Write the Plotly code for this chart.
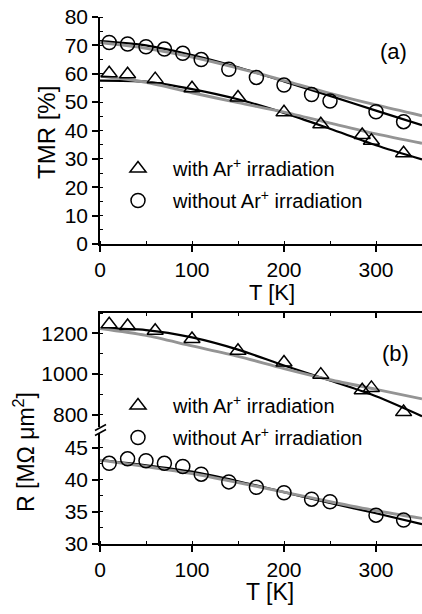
import plotly.graph_objects as go

# ---------------- data ----------------
T_tri_a = [10, 30, 60, 100, 150, 200, 240, 285, 295, 330]
TMR_tri = [60.2, 59.8, 58.1, 54.9, 51.6, 46.4, 42.2, 38.4, 36.4, 32.0]
T_cir_a = [10, 30, 50, 70, 90, 110, 140, 170, 200, 230, 250, 300, 330]
TMR_cir = [71.0, 70.5, 69.5, 68.7, 67.2, 65.0, 61.6, 58.7, 56.0, 52.7, 50.4, 46.6, 43.1]

T_fit = [0, 50, 100, 150, 200, 250, 300, 350]
TMR_tri_black = [57.6, 57.2, 54.6, 51.0, 46.2, 40.6, 34.8, 29.8]
TMR_tri_gray = [59.2, 57.0, 53.3, 49.8, 46.5, 42.6, 38.8, 35.5]
TMR_cir_black = [71.5, 70.0, 66.6, 62.3, 57.3, 52.2, 47.0, 41.9]
TMR_cir_gray = [71.0, 69.0, 65.9, 62.0, 57.6, 53.1, 49.0, 45.2]

T_tri_b = [10, 30, 60, 100, 150, 200, 240, 285, 295, 330]
R_tri = [1245, 1236, 1213, 1172, 1114, 1057, 997, 920, 932, 813]
T_cir_b = [10, 30, 50, 70, 90, 110, 140, 170, 200, 230, 250, 300, 330]
R_cir = [42.6, 43.3, 43.0, 42.6, 42.1, 40.9, 39.7, 38.85, 38.0, 37.0, 36.6, 34.5, 33.75]

R_tri_black = [1224, 1216, 1180, 1120, 1042, 968, 891, 793]
R_tri_gray = [1224, 1190, 1138, 1087, 1027, 972, 925, 878]
R_cir_black = [43.1, 42.3, 41.3, 39.8, 38.1, 36.4, 34.8, 33.1]
R_cir_gray = [43.1, 42.1, 41.0, 39.6, 38.1, 36.6, 35.2, 34.0]

label_with = "with Ar<sup>+</sup> irradiation"
label_without = "without Ar<sup>+</sup> irradiation"

# ---------------- geometry helpers ----------------
W, H = 422, 614
ML, MR = 100, 0
PW = W - ML - MR


def px(x):
    return (x - ML) / PW


def py(y):
    return 1 - y / H


FONT = "Liberation Sans, Arial, sans-serif"
BLACK = "#000000"
GRAY = "#949494"
LW_B, LW_G = 2.2, 2.9

fig = go.Figure()


def fit_line(y, col, w, xa, ya):
    fig.add_trace(go.Scatter(x=T_fit, y=y, mode="lines", xaxis=xa, yaxis=ya,
                             line=dict(color=col, width=w, shape="spline", smoothing=0.8),
                             showlegend=False, hoverinfo="skip"))


def marks(x, y, sym, name, xa, ya, legend, group):
    fig.add_trace(go.Scatter(x=x, y=y, mode="markers", name=name, xaxis=xa, yaxis=ya,
                             marker=dict(symbol=sym, size=14, color=BLACK, line=dict(width=1.5, color=BLACK)),
                             legend=legend, legendgroup=group, hoverinfo="skip"))


# top panel
fit_line(TMR_tri_black, BLACK, LW_B, "x", "y")
fit_line(TMR_cir_black, BLACK, LW_B, "x", "y")
fit_line(TMR_tri_gray, GRAY, LW_G, "x", "y")
fit_line(TMR_cir_gray, GRAY, LW_G, "x", "y")
marks(T_tri_a, TMR_tri, "triangle-up-open", label_with, "x", "y", "legend", "a1")
marks(T_cir_a, TMR_cir, "circle-open", label_without, "x", "y", "legend", "a2")

# bottom panel: upper segment (x3,y3), lower segment (x2,y4)
fit_line(R_tri_black, BLACK, LW_B, "x3", "y3")
fit_line(R_tri_gray, GRAY, LW_G, "x3", "y3")
fit_line(R_cir_black, BLACK, LW_B, "x2", "y4")
fit_line(R_cir_gray, GRAY, LW_G, "x2", "y4")
marks(T_tri_b, R_tri, "triangle-up-open", label_with, "x3", "y3", "legend2", "b1")
marks(T_cir_b, R_cir, "circle-open", label_without, "x2", "y4", "legend2", "b2")

tickfont = dict(family=FONT, size=21, color=BLACK)
XR = [0, 350]
MINOR = dict(ticks="inside", ticklen=3, tickcolor=BLACK, tickwidth=1.2)

common_x = dict(range=XR, showgrid=False, zeroline=False, linecolor=BLACK, linewidth=1.5,
                tickcolor=BLACK, tickwidth=1.5, dtick=100, tick0=0, minor=dict(dtick=50, **MINOR))
common_y = dict(showgrid=False, zeroline=False, linecolor=BLACK, linewidth=1.5,
                tickcolor=BLACK, tickwidth=1.5, automargin=False)

D_TOP = [py(244), py(17)]
D_UP = [py(430), py(313)]
D_LO = [py(544), py(430)]

fig.update_layout(
    width=W, height=H, margin=dict(l=ML, r=MR, t=0, b=0, autoexpand=False),
    paper_bgcolor="white", plot_bgcolor="rgba(0,0,0,0)",
    font=dict(family=FONT, color=BLACK),
    xaxis=dict(**common_x, domain=[0, 1], anchor="y", showline=True, ticks="outside", ticklen=6,
               tickfont=tickfont),
    yaxis=dict(**common_y, domain=D_TOP, anchor="x", range=[0, 80], dtick=10, tick0=0, showline=True,
               ticks="outside", ticklen=6, tickfont=tickfont, minor=dict(dtick=5, **MINOR)),
    xaxis4=dict(**common_x, overlaying="x", anchor="y", side="top", showline=True, ticks="inside",
                ticklen=5, showticklabels=False),
    yaxis5=dict(**common_y, overlaying="y", anchor="x", side="right", range=[0, 80], dtick=10, tick0=0,
                showline=False, ticks="inside", ticklen=5, showticklabels=False,
                minor=dict(dtick=5, **MINOR)),
    xaxis2=dict(**common_x, domain=[0, 1], anchor="y4", showline=True, ticks="outside", ticklen=6,
                tickfont=tickfont),
    xaxis3=dict(**common_x, domain=[0, 1], anchor="y3", side="top", showline=True, ticks="inside",
                ticklen=5, showticklabels=False),
    yaxis3=dict(**common_y, domain=D_UP, anchor="x3", range=[725, 1300], dtick=200, tick0=0,
                showline=True, ticks="outside", ticklen=6, tickfont=tickfont,
                minor=dict(dtick=100, **MINOR)),
    yaxis4=dict(**common_y, domain=D_LO, anchor="x2", range=[30, 47.8], dtick=5, tick0=0,
                showline=True, ticks="outside", ticklen=6, tickfont=tickfont,
                minor=dict(dtick=2.5, **MINOR)),
    yaxis6=dict(**common_y, overlaying="y3", anchor="x3", side="right", range=[725, 1300], dtick=200,
                tick0=0, showline=False, ticks="inside", ticklen=5, showticklabels=False,
                minor=dict(dtick=100, **MINOR)),
    yaxis7=dict(**common_y, overlaying="y4", anchor="x2", side="right", range=[30, 47.8], dtick=5,
                tick0=0, showline=False, ticks="inside", ticklen=5, showticklabels=False,
                minor=dict(dtick=2.5, **MINOR)),
    legend=dict(x=px(103), y=py(149), xanchor="left", yanchor="top", bgcolor="rgba(0,0,0,0)",
                font=dict(family=FONT, size=20, color=BLACK), itemwidth=60, tracegroupgap=3),
    legend2=dict(x=px(103), y=py(386), xanchor="left", yanchor="top", bgcolor="rgba(0,0,0,0)",
                 font=dict(family=FONT, size=20, color=BLACK), itemwidth=60, tracegroupgap=3),
    showlegend=True,
)

ann = [
    dict(text="TMR [%]", x=px(46), y=py(132), textangle=-90, size=24),
    dict(text="T [K]", x=px(272), y=py(292), textangle=0, size=22),
    dict(text="(a)", x=px(393), y=py(51), textangle=0, size=22),
    dict(text="R [MΩ μm<sup>2</sup>]", x=px(24), y=py(452), textangle=-90, size=23),
    dict(text="T [K]", x=px(270), y=py(592), textangle=0, size=23),
    dict(text="(b)", x=px(395), y=py(353), textangle=0, size=22),
]
for a in ann:
    fig.add_annotation(xref="paper", yref="paper", showarrow=False, xanchor="center", yanchor="middle",
                       text=a["text"], x=a["x"], y=a["y"], textangle=a["textangle"],
                       font=dict(family=FONT, color=BLACK, size=a["size"]))

# axis break marks on the left axis
fig.add_shape(type="rect", xref="paper", yref="paper", x0=px(98), x1=px(102.5), y0=py(433), y1=py(427),
              fillcolor="white", line=dict(width=0))
for dy in (-2.5, 2.5):
    fig.add_shape(type="line", xref="paper", yref="paper", x0=px(95), x1=px(106),
                  y0=py(433 + dy), y1=py(427 + dy), line=dict(color=BLACK, width=1.5))

fig.write_html("out.html")
